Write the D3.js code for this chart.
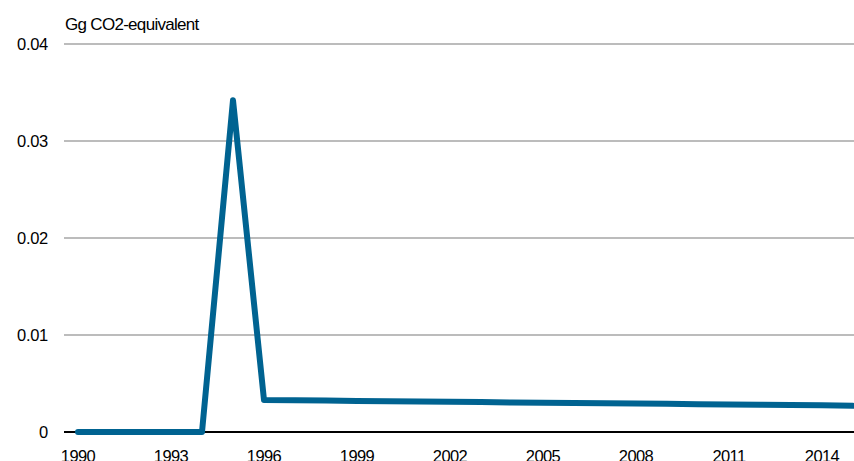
<!DOCTYPE html>
<html><head><meta charset="utf-8">
<script src="https://cdn.jsdelivr.net/npm/d3@7"></script>
<style>
body{margin:0;background:#fff;}
text{font-family:"Liberation Sans",Arial,sans-serif;fill:#000;}
</style></head>
<body><svg id="c" width="854" height="461"></svg>
<script>
const years = [1990,1991,1992,1993,1994,1995,1996,1997,1998,1999,2000,2001,2002,2003,2004,2005,2006,2007,2008,2009,2010,2011,2012,2013,2014,2015];
const values = [0,0,0,0,0,0.0342,0.00330,0.00327,0.00324,0.00320,0.00317,0.00314,0.00311,0.00308,0.00305,0.00302,0.00299,0.00296,0.00293,0.00290,0.00287,0.00284,0.00281,0.00278,0.00275,0.00270];
const xTicks = [1990,1993,1996,1999,2002,2005,2008,2011,2014];
const yTicks = [0,0.01,0.02,0.03,0.04];
const yTickLabels = ["0","0.01","0.02","0.03","0.04"];
const unitLabel = "Gg CO2-equivalent";

const svg = d3.select("#c");
const x = d3.scaleLinear().domain([1990,2015]).range([78,853]);
const y = d3.scaleLinear().domain([0,0.04]).range([432,44]);

svg.append("g").selectAll("line").data(yTicks.slice(1)).join("line")
  .attr("x1",64).attr("x2",854).attr("y1",d=>y(d)).attr("y2",d=>y(d))
  .attr("stroke","#a6a6a6").attr("stroke-width",1.5);

svg.append("line").attr("x1",64).attr("x2",854).attr("y1",y(0)).attr("y2",y(0))
  .attr("stroke","#000").attr("stroke-width",2);

svg.append("g").selectAll("text").data(yTicks).join("text")
  .attr("x",48).attr("y",d=>y(d)+6).attr("text-anchor","end")
  .attr("font-size",16.5).attr("letter-spacing",-0.3)
  .text((d,i)=>yTickLabels[i]);

svg.append("g").selectAll("text").data(xTicks).join("text")
  .attr("x",d=>x(d)).attr("y",462).attr("text-anchor","middle")
  .attr("font-size",16.5).attr("letter-spacing",-0.6)
  .text(d=>d);

svg.append("text").attr("x",65).attr("y",30).attr("font-size",17).attr("letter-spacing",-0.7).text(unitLabel);

const line = d3.line().x((d,i)=>x(years[i])).y(d=>y(d));
svg.append("path").datum(values).attr("d",line)
  .attr("fill","none").attr("stroke","#006391").attr("stroke-width",6)
  .attr("stroke-linejoin","round").attr("stroke-linecap","round");
</script></body></html>
